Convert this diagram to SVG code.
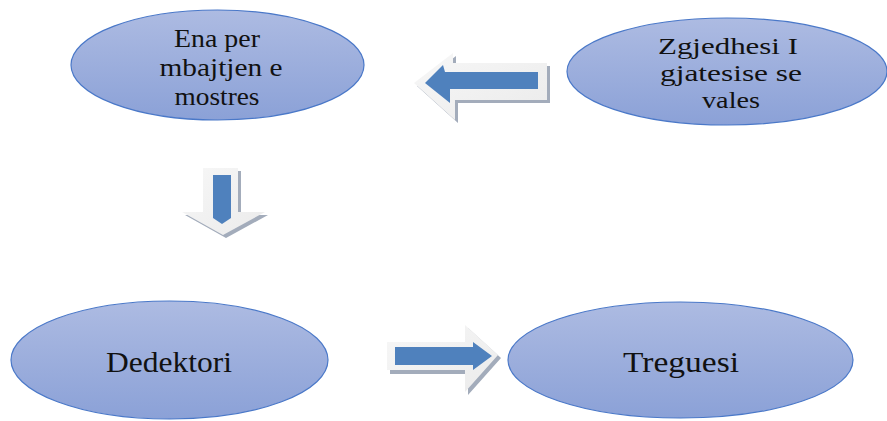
<svg xmlns="http://www.w3.org/2000/svg" width="887" height="421" viewBox="0 0 887 421">
  <defs>
    <linearGradient id="nodeFill" x1="0" y1="0" x2="0" y2="1">
      <stop offset="0" stop-color="#adbbe2"/>
      <stop offset="1" stop-color="#8ba1d7"/>
    </linearGradient>
    <linearGradient id="arrowOuter" x1="0" y1="0" x2="1" y2="1">
      <stop offset="0" stop-color="#f7f7f7"/>
      <stop offset="1" stop-color="#ebebeb"/>
    </linearGradient>
  </defs>
  <style>
    .node { fill: url(#nodeFill); stroke: #4a78c8; stroke-width: 1.2; }
    .lbl { font-family: "Liberation Serif", "Times New Roman", serif; fill: #111; text-anchor: middle; }
    .top { font-size: 26px; }
    .mid { font-size: 23px; }
    .big { font-size: 29px; }
    .shadow { fill: #a3acbb; }
    .outer { fill: url(#arrowOuter); }
    .inner { fill: #4f81bd; }
  </style>

  <g id="connectors">
    <g id="arrow-left">
      <polygon class="shadow" points="417,86 456,56 456,66 550,66 550,103 458,103 458,123"/>
      <polygon class="outer" points="414,83 453,53 453,63 547,63 547,100 455,100 455,120"/>
      <polygon class="inner" points="425,83 443,65 445,72 538,72 538,89 450,89 450,103"/>
    </g>
    <g id="arrow-down">
      <polygon class="shadow" points="206,171 241,171 241,215 268,215 226,238 185,215 206,215"/>
      <polygon class="outer" points="203,168 238,168 238,212 265,212 223,235 182,212 203,212"/>
      <polygon class="inner" points="213,175 231,175 231,218 222,224 213,218"/>
    </g>
    <g id="arrow-right">
      <polygon class="shadow" points="390,345 468,345 468,328 501,358 468,395 468,374 390,374"/>
      <polygon class="outer" points="387,342 465,342 465,325 498,355 465,392 465,370 387,370"/>
      <polygon class="inner" points="395,347 473,347 473,342 492,356 473,370 473,365 395,365"/>
    </g>
  </g>

  <g id="node-ena">
    <ellipse class="node" cx="217.5" cy="65" rx="146.5" ry="55"/>
    <text class="lbl top" x="217" y="47" textLength="86" lengthAdjust="spacingAndGlyphs">Ena per</text>
    <text class="lbl top" x="221" y="76" textLength="123" lengthAdjust="spacingAndGlyphs">mbajtjen e</text>
    <text class="lbl top" x="217" y="105" textLength="85" lengthAdjust="spacingAndGlyphs">mostres</text>
  </g>

  <g id="node-zgjedhesi">
    <ellipse class="node" cx="727" cy="71.5" rx="160" ry="53.5"/>
    <text class="lbl mid" x="728" y="54" textLength="140" lengthAdjust="spacingAndGlyphs">Zgjedhesi I</text>
    <text class="lbl mid" x="731" y="81" textLength="142" lengthAdjust="spacingAndGlyphs">gjatesise se</text>
    <text class="lbl mid" x="731" y="108" textLength="58" lengthAdjust="spacingAndGlyphs">vales</text>
  </g>

  <g id="node-dedektori">
    <ellipse class="node" cx="169.5" cy="360" rx="158.5" ry="59"/>
    <text class="lbl big" x="169" y="372" textLength="126" lengthAdjust="spacingAndGlyphs">Dedektori</text>
  </g>

  <g id="node-treguesi">
    <ellipse class="node" cx="680.5" cy="360" rx="172.5" ry="58"/>
    <text class="lbl big" x="681" y="372" textLength="116" lengthAdjust="spacingAndGlyphs">Treguesi</text>
  </g>
</svg>
